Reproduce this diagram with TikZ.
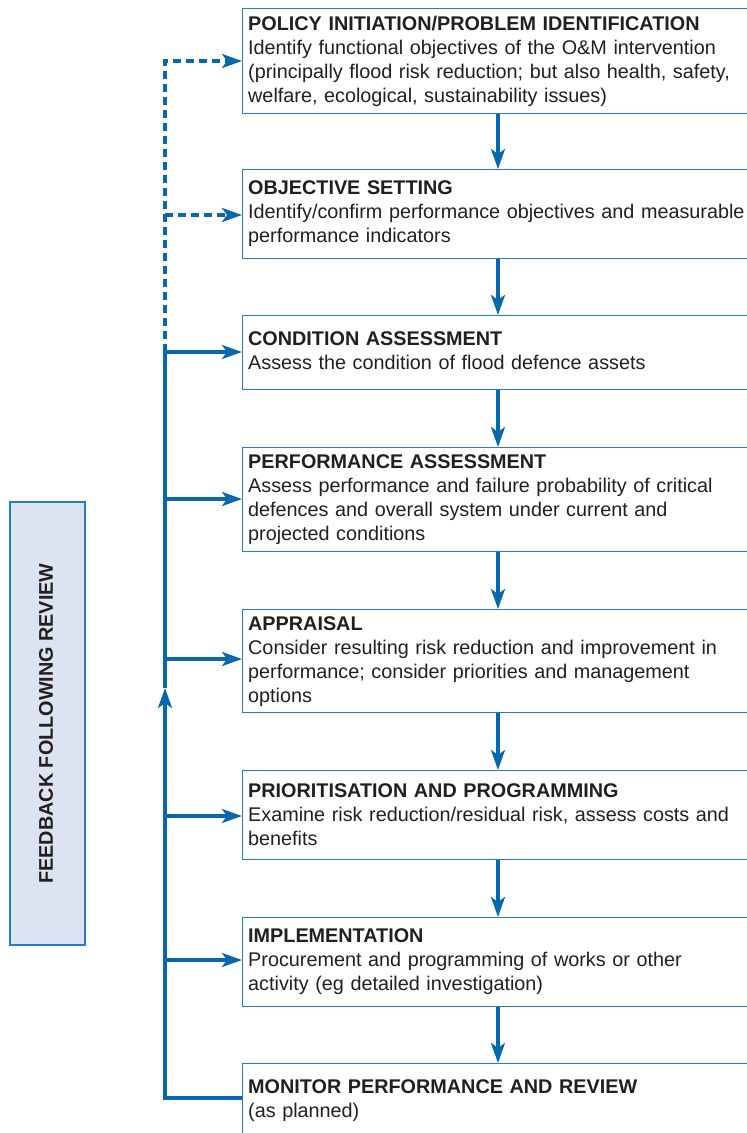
\documentclass[tikz,border=0pt]{standalone}
\usepackage{fontspec}
\setmainfont{Liberation Sans}
\usetikzlibrary{arrows.meta}
\definecolor{flowblue}{RGB}{8,104,172}
\definecolor{boxblue}{RGB}{40,125,190}
\definecolor{fbfill}{RGB}{220,227,241}
\definecolor{txt}{RGB}{35,31,32}
\begin{document}
\begin{tikzpicture}[x=1pt,y=-1pt,
  stagebox/.style={draw=boxblue, line width=1.4pt, fill=white, anchor=north west, minimum width=530pt, inner sep=0pt},
  stagetext/.style={anchor=base west, text width=540pt, inner sep=0pt, align=left, text=txt, font=\fontsize{19.8}{24}\selectfont},
  conn/.style={draw=flowblue, line width=3.2pt},
  tipstyle/.style={-{Stealth[length=20pt,width=14pt,inset=5pt]}},
  arr/.style={conn, tipstyle},
  dashconn/.style={conn, dash pattern=on 8pt off 5pt},
]
\useasboundingbox (0,0) rectangle (747,1133);
\clip (0,0) rectangle (747,1133);

% stage boxes
\node[stagebox, minimum height=105pt] (b1) at (242,8) {};
\node[stagebox, minimum height=89pt]  (b2) at (242,169) {};
\node[stagebox, minimum height=74pt]  (b3) at (242,315) {};
\node[stagebox, minimum height=104pt] (b4) at (242,447) {};
\node[stagebox, minimum height=103pt] (b5) at (242,609) {};
\node[stagebox, minimum height=89pt]  (b6) at (242,770) {};
\node[stagebox, minimum height=89pt]  (b7) at (242,917) {};
\node[stagebox, minimum height=90pt]  (b8) at (242,1063) {};

% texts
\node[stagetext] (t1) at (248,30) {\textbf{POLICY INITIATION/PROBLEM IDENTIFICATION}\\Identify functional objectives of the O\&M intervention\\(principally flood risk reduction; but also health, safety,\\welfare, ecological, sustainability issues)};
\node[stagetext] (t2) at (248,194) {\textbf{OBJECTIVE SETTING}\\Identify/confirm performance objectives and measurable\\performance indicators};
\node[stagetext] (t3) at (248,345) {\textbf{CONDITION ASSESSMENT}\\Assess the condition of flood defence assets};
\node[stagetext] (t4) at (248,468) {\textbf{PERFORMANCE ASSESSMENT}\\Assess performance and failure probability of critical\\defences and overall system under current and\\projected conditions};
\node[stagetext] (t5) at (248,630) {\textbf{APPRAISAL}\\Consider resulting risk reduction and improvement in\\performance; consider priorities and management\\options};
\node[stagetext] (t6) at (248,797) {\textbf{PRIORITISATION AND PROGRAMMING}\\Examine risk reduction/residual risk, assess costs and\\benefits};
\node[stagetext] (t7) at (248,942) {\textbf{IMPLEMENTATION}\\Procurement and programming of works or other\\activity (eg detailed investigation)};
\node[stagetext] (t8) at (248,1093) {\textbf{MONITOR PERFORMANCE AND REVIEW}\\(as planned)};

% down arrows
\coordinate (ax) at (498,0);
\draw[arr] (b1.south -| ax) -- (b2.north -| ax);
\draw[arr] (b2.south -| ax) -- (b3.north -| ax);
\draw[arr] (b3.south -| ax) -- (b4.north -| ax);
\draw[arr] (b4.south -| ax) -- (b5.north -| ax);
\draw[arr] (b5.south -| ax) -- (b6.north -| ax);
\draw[arr] (b6.south -| ax) -- (b7.north -| ax);
\draw[arr] (b7.south -| ax) -- (b8.north -| ax);

% feedback loop
\coordinate (fbTop) at (165,61);
\coordinate (fb2) at (165,215);
\coordinate (fb3) at (165,352);
\coordinate (fb4) at (165,499);
\coordinate (fb5) at (165,659);
\coordinate (fbArrow) at (165,688);
\coordinate (fb6) at (165,816);
\coordinate (fb7) at (165,960);
\coordinate (fb8) at (165,1098);

\draw[arr] (b8.west |- fb8) -- (fb8) -- (fbArrow);
\draw[conn] (fbArrow) -- (fb3);
\draw[arr] (fb3) -- (b3.west |- fb3);
\draw[arr] (fb4) -- (b4.west |- fb4);
\draw[arr] (fb5) -- (b5.west |- fb5);
\draw[arr] (fb6) -- (b6.west |- fb6);
\draw[arr] (fb7) -- (b7.west |- fb7);
\draw[dashconn, tipstyle] (fb3) -- (fbTop) -- (b1.west |- fbTop);
\draw[dashconn, tipstyle] (fb2) -- (b2.west |- fb2);

% feedback label box
\node[draw=boxblue, fill=fbfill, line width=1.2pt, minimum width=75pt, minimum height=443pt, inner sep=0pt] (fb) at (47.5,723.5) {};
\node[rotate=90, inner sep=0pt, text=txt, font=\bfseries\fontsize{19.8}{24}\selectfont] (fbt) at (46,723.5) {FEEDBACK FOLLOWING REVIEW};
\end{tikzpicture}
\end{document}
